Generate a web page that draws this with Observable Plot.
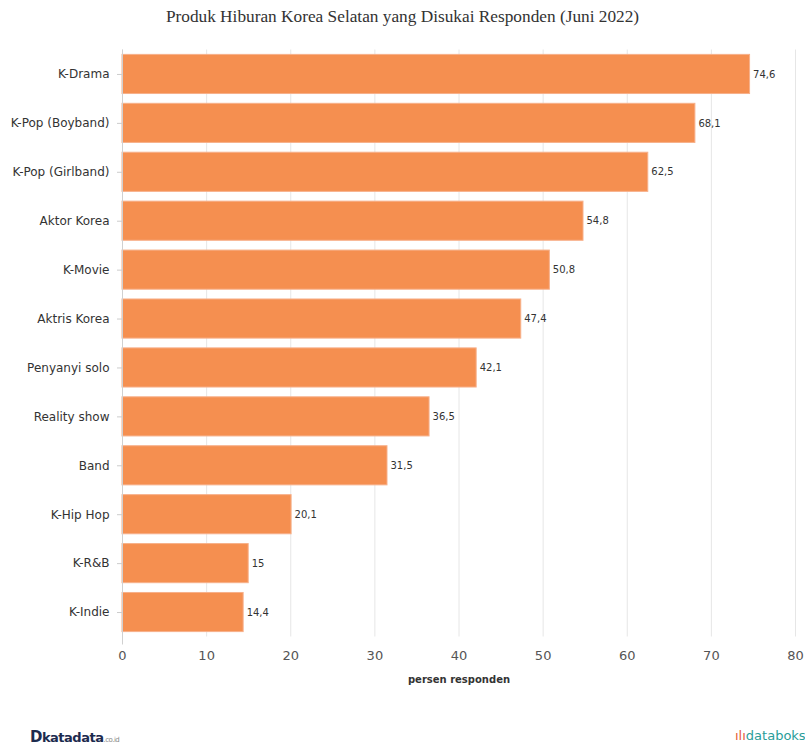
<!DOCTYPE html>
<html>
<head>
<meta charset="utf-8">
<script src="https://cdn.jsdelivr.net/npm/d3@7"></script>
<script src="https://cdn.jsdelivr.net/npm/@observablehq/plot@0.6"></script>
<style>
  html, body { margin: 0; padding: 0; background: #fff; }
  #wrap { width: 805px; height: 746px; position: relative; overflow: hidden; }
  #title { position: absolute; left: 0; top: 0; width: 805px; height: 36px; line-height: 34px; text-align: center; font-family: "Liberation Serif", "Times New Roman", serif; font-size: 17.3px; color: #333; }
  #chart { position: absolute; left: 0; top: 36px; }
  #chart svg { display: block; }
  #footer { position: absolute; left: 0; top: 700px; width: 805px; height: 46px; }
  .kata { position: absolute; left: 30px; top: 28px; font-family: "DejaVu Sans", sans-serif; font-weight: bold; font-size: 13px; color: #1d2b4f; letter-spacing: -0.5px; }
  .kata small { font-size: 7px; font-weight: normal; color: #888; }
  .kata b { font-size: 15px; }
  .boks { position: absolute; left: 735px; top: 28px; font-family: "DejaVu Sans", sans-serif; font-size: 13px; color: #2a9d9a; white-space: nowrap; }
  .boks span { color: #e65a3c; }
</style>
</head>
<body>
<div id="wrap">
  <div id="title">Produk Hiburan Korea Selatan yang Disukai Responden (Juni 2022)</div>
  <div id="chart"></div>
  <div id="footer">
    <div class="kata"><b>D</b>katadata<small>.co.id</small></div>
    <div class="boks"><span>ılı</span>databoks</div>
  </div>
</div>
<script>
const categories = ["K-Drama", "K-Pop (Boyband)", "K-Pop (Girlband)", "Aktor Korea", "K-Movie", "Aktris Korea", "Penyanyi solo", "Reality show", "Band", "K-Hip Hop", "K-R&B", "K-Indie"];
const values = [74.6, 68.1, 62.5, 54.8, 50.8, 47.4, 42.1, 36.5, 31.5, 20.1, 15, 14.4];
const xTicks = [0, 10, 20, 30, 40, 50, 60, 70, 80];
const xLabel = "persen responden";

const data = categories.map((c, i) => ({category: c, value: values[i]}));
const fmt = v => String(v).replace(".", ",");

const H = 665, MT = 13.5, MB = 64.5;
const chart = Plot.plot({
  width: 805,
  height: H,
  marginTop: MT,
  marginBottom: MB,
  marginLeft: 122,
  marginRight: 10,
  style: { fontFamily: "DejaVu Sans, Verdana, sans-serif", background: "#fff", overflow: "visible" },
  x: { domain: [0, 80], ticks: xTicks },
  y: { domain: categories, range: [MT, H - MB], paddingInner: 0.2, paddingOuter: 0.1, round: false, label: null },
  marks: [
    Plot.gridX(xTicks, { stroke: "#e6e6e6", strokeOpacity: 1, strokeWidth: 1 }),
    Plot.barX(data, { x: "value", y: "category", fill: "#f58f50", stroke: "#f7b08a", strokeWidth: 1 }),
    Plot.text(data, { x: "value", y: "category", text: d => fmt(d.value), textAnchor: "start", dx: 3, fontSize: 10, fill: "#333" }),
    Plot.ruleX([0], { stroke: "#d0d0d0", insetBottom: -8 }),
    Plot.axisY({ tickSize: 5, tickPadding: 8, fontSize: 12, color: "#333", stroke: "#ccc", label: null }),
    Plot.axisX(xTicks, { tickSize: 0, tickPadding: 14, fontSize: 13, fill: "#555", label: null }),
    Plot.text([xLabel], { frameAnchor: "bottom", dy: 46, fontSize: 10, fontWeight: "bold", fill: "#333" })
  ]
});
document.getElementById("chart").appendChild(chart);
</script>
</body>
</html>
